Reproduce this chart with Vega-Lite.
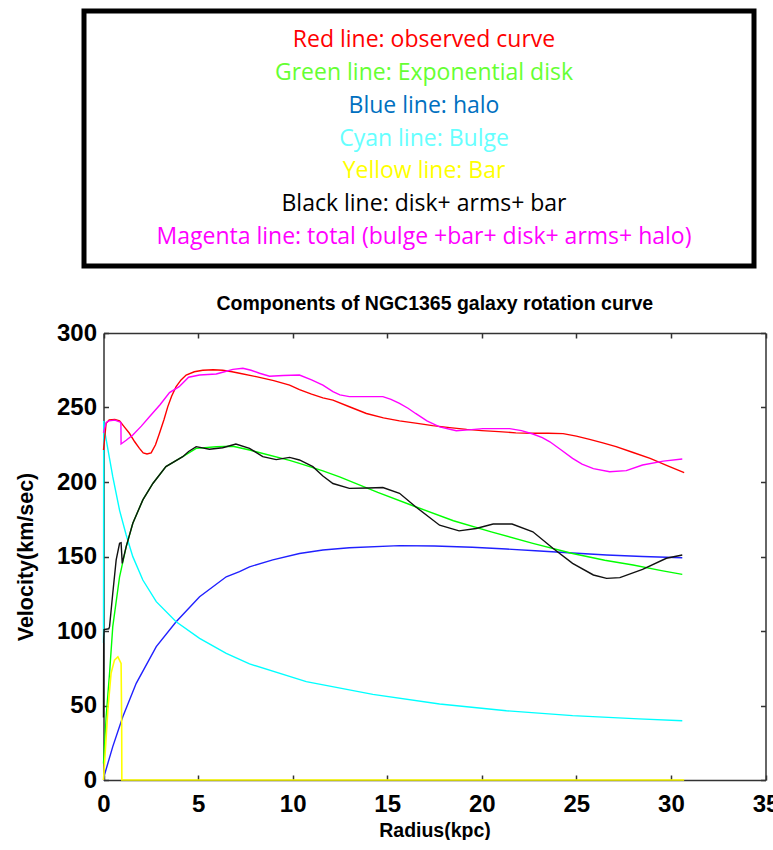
{
  "$schema": "https://vega.github.io/schema/vega-lite/v6.json",
  "autosize": {"type": "pad"},
  "padding": {"left": 15, "top": 8, "right": 0, "bottom": 0},
  "background": "white",
  "config": {"view": {"stroke": null}},
  "spacing": 24,
  "resolve": {"scale": {"color": "independent", "y": "independent", "x": "independent"}},
  "vconcat": [
    {
      "width": 670,
      "height": 255,
      "view": {"stroke": "black", "strokeWidth": 5},
      "data": {"values": [
        {"i": 1, "label": "Red line: observed curve"},
        {"i": 2, "label": "Green line: Exponential disk"},
        {"i": 3, "label": "Blue line: halo"},
        {"i": 4, "label": "Cyan line: Bulge"},
        {"i": 5, "label": "Yellow line: Bar"},
        {"i": 6, "label": "Black line: disk+ arms+ bar"},
        {"i": 7, "label": "Magenta line: total (bulge +bar+ disk+ arms+ halo)"}
      ]},
      "mark": {"type": "text", "font": "Open Sans", "fontSize": 23, "dx": 5},
      "encoding": {
        "y": {"field": "i", "type": "ordinal", "scale": {"type": "point", "padding": 0.875}, "axis": null},
        "text": {"field": "label"},
        "color": {"field": "label", "type": "nominal", "legend": null,
                  "scale": {"domain": ["Red line: observed curve", "Green line: Exponential disk", "Blue line: halo", "Cyan line: Bulge", "Yellow line: Bar", "Black line: disk+ arms+ bar", "Magenta line: total (bulge +bar+ disk+ arms+ halo)"],
                            "range": ["#ff0000", "#66ff33", "#0070c0", "#66ffff", "#ffff00", "#000000", "#ff00ff"]}}
      }
    },
    {
      "width": 681.5,
      "height": 447,
      "title": {"text": "Components of NGC1365 galaxy rotation curve", "font": "Liberation Sans, Arial, sans-serif", "fontSize": 19.5, "fontWeight": "bold", "color": "black", "anchor": "middle", "offset": 7, "dx": 10},
      "data": {"values": [
        {"s": "Blue", "r": 0, "v": 0}, {"s": "Blue", "r": 0.05, "v": 3.4}, {"s": "Blue", "r": 0.49, "v": 22.4}, {"s": "Blue", "r": 1.02, "v": 42.5}, {"s": "Blue", "r": 1.73, "v": 64.9}, {"s": "Blue", "r": 2.79, "v": 89.5}, {"s": "Blue", "r": 3.84, "v": 106.2}, {"s": "Blue", "r": 5.08, "v": 123}, {"s": "Blue", "r": 6.49, "v": 136.4}, {"s": "Blue", "r": 7.19, "v": 139.8}, {"s": "Blue", "r": 7.72, "v": 143.1}, {"s": "Blue", "r": 8.95, "v": 147.7}, {"s": "Blue", "r": 10.36, "v": 152}, {"s": "Blue", "r": 11.6, "v": 154.4}, {"s": "Blue", "r": 13, "v": 155.9}, {"s": "Blue", "r": 15.65, "v": 157.3}, {"s": "Blue", "r": 17.5, "v": 157}, {"s": "Blue", "r": 19.5, "v": 156.2}, {"s": "Blue", "r": 21.3, "v": 155}, {"s": "Blue", "r": 23.06, "v": 153.7}, {"s": "Blue", "r": 24.8, "v": 152.3}, {"s": "Blue", "r": 26.6, "v": 151}, {"s": "Blue", "r": 28.5, "v": 150}, {"s": "Blue", "r": 30.6, "v": 149.2},
        {"s": "Cyan", "r": 0, "v": 92}, {"s": "Cyan", "r": 0.01, "v": 241}, {"s": "Cyan", "r": 0.05, "v": 235}, {"s": "Cyan", "r": 0.49, "v": 203.6}, {"s": "Cyan", "r": 0.85, "v": 181}, {"s": "Cyan", "r": 1.2, "v": 164.4}, {"s": "Cyan", "r": 1.55, "v": 149.9}, {"s": "Cyan", "r": 2.08, "v": 134.2}, {"s": "Cyan", "r": 2.79, "v": 119.7}, {"s": "Cyan", "r": 3.84, "v": 106.2}, {"s": "Cyan", "r": 5.08, "v": 95.1}, {"s": "Cyan", "r": 6.49, "v": 85}, {"s": "Cyan", "r": 7.72, "v": 77.9}, {"s": "Cyan", "r": 10.72, "v": 66}, {"s": "Cyan", "r": 14.24, "v": 57.5}, {"s": "Cyan", "r": 17.77, "v": 51}, {"s": "Cyan", "r": 21.3, "v": 46.5}, {"s": "Cyan", "r": 24.8, "v": 43.2}, {"s": "Cyan", "r": 28.3, "v": 41}, {"s": "Cyan", "r": 30.6, "v": 39.8},
        {"s": "Green", "r": 0, "v": 11}, {"s": "Green", "r": 0.14, "v": 42.5}, {"s": "Green", "r": 0.32, "v": 71.6}, {"s": "Green", "r": 0.49, "v": 102.9}, {"s": "Green", "r": 0.85, "v": 136.4}, {"s": "Green", "r": 1.2, "v": 156.6}, {"s": "Green", "r": 1.55, "v": 172.3}, {"s": "Green", "r": 2.08, "v": 188}, {"s": "Green", "r": 2.61, "v": 199}, {"s": "Green", "r": 3.3, "v": 210.3}, {"s": "Green", "r": 4.19, "v": 217}, {"s": "Green", "r": 4.9, "v": 222.6}, {"s": "Green", "r": 5.96, "v": 223.7}, {"s": "Green", "r": 6.84, "v": 224}, {"s": "Green", "r": 7.72, "v": 221.5}, {"s": "Green", "r": 8.07, "v": 220.3}, {"s": "Green", "r": 9.84, "v": 214.5}, {"s": "Green", "r": 10.36, "v": 212.5}, {"s": "Green", "r": 11.6, "v": 207.5}, {"s": "Green", "r": 12.48, "v": 203.5}, {"s": "Green", "r": 14.5, "v": 193}, {"s": "Green", "r": 16.5, "v": 183.4}, {"s": "Green", "r": 18.5, "v": 174}, {"s": "Green", "r": 20.5, "v": 166.5}, {"s": "Green", "r": 22.7, "v": 158.8}, {"s": "Green", "r": 24.8, "v": 152}, {"s": "Green", "r": 26.5, "v": 147.5}, {"s": "Green", "r": 28, "v": 144.3}, {"s": "Green", "r": 29.5, "v": 140.5}, {"s": "Green", "r": 30.6, "v": 138},
        {"s": "Black", "r": 0, "v": 42}, {"s": "Black", "r": 0.01, "v": 94}, {"s": "Black", "r": 0.03, "v": 100.9}, {"s": "Black", "r": 0.28, "v": 101.5}, {"s": "Black", "r": 0.32, "v": 102.9}, {"s": "Black", "r": 0.49, "v": 125.3}, {"s": "Black", "r": 0.67, "v": 147.7}, {"s": "Black", "r": 0.85, "v": 158.9}, {"s": "Black", "r": 0.93, "v": 159.3}, {"s": "Black", "r": 0.99, "v": 145.4}, {"s": "Black", "r": 1.2, "v": 156.6}, {"s": "Black", "r": 1.55, "v": 172.3}, {"s": "Black", "r": 2.08, "v": 188}, {"s": "Black", "r": 2.61, "v": 199}, {"s": "Black", "r": 3.3, "v": 210.3}, {"s": "Black", "r": 4.19, "v": 217}, {"s": "Black", "r": 4.5, "v": 220.5}, {"s": "Black", "r": 4.9, "v": 223.7}, {"s": "Black", "r": 5.6, "v": 222}, {"s": "Black", "r": 6.3, "v": 223}, {"s": "Black", "r": 7.0, "v": 225.5}, {"s": "Black", "r": 7.72, "v": 222.6}, {"s": "Black", "r": 8.42, "v": 217}, {"s": "Black", "r": 9.13, "v": 215}, {"s": "Black", "r": 9.84, "v": 216.5}, {"s": "Black", "r": 10.36, "v": 214.8}, {"s": "Black", "r": 11.07, "v": 210.3}, {"s": "Black", "r": 11.6, "v": 204}, {"s": "Black", "r": 12.13, "v": 199}, {"s": "Black", "r": 13.0, "v": 195.7}, {"s": "Black", "r": 14.0, "v": 196}, {"s": "Black", "r": 14.77, "v": 196.3}, {"s": "Black", "r": 15.65, "v": 192.4}, {"s": "Black", "r": 16.5, "v": 183.4}, {"s": "Black", "r": 17.77, "v": 171}, {"s": "Black", "r": 18.8, "v": 167.2}, {"s": "Black", "r": 19.7, "v": 168.8}, {"s": "Black", "r": 20.6, "v": 171.8}, {"s": "Black", "r": 21.6, "v": 171.8}, {"s": "Black", "r": 22.7, "v": 166.6}, {"s": "Black", "r": 23.76, "v": 155.5}, {"s": "Black", "r": 24.8, "v": 145.4}, {"s": "Black", "r": 25.9, "v": 137.6}, {"s": "Black", "r": 26.6, "v": 135.3}, {"s": "Black", "r": 27.3, "v": 135.8}, {"s": "Black", "r": 28.5, "v": 141.3}, {"s": "Black", "r": 29.76, "v": 148.8}, {"s": "Black", "r": 30.6, "v": 151},
        {"s": "Red", "r": 0, "v": 221.5}, {"s": "Red", "r": 0.14, "v": 239.4}, {"s": "Red", "r": 0.3, "v": 241.6}, {"s": "Red", "r": 0.6, "v": 242}, {"s": "Red", "r": 0.85, "v": 241}, {"s": "Red", "r": 1.1, "v": 237}, {"s": "Red", "r": 1.37, "v": 232.7}, {"s": "Red", "r": 1.65, "v": 227}, {"s": "Red", "r": 1.9, "v": 222.6}, {"s": "Red", "r": 2.1, "v": 219.5}, {"s": "Red", "r": 2.3, "v": 218.8}, {"s": "Red", "r": 2.52, "v": 219.5}, {"s": "Red", "r": 2.75, "v": 225}, {"s": "Red", "r": 2.96, "v": 232.7}, {"s": "Red", "r": 3.2, "v": 242}, {"s": "Red", "r": 3.4, "v": 250.6}, {"s": "Red", "r": 3.6, "v": 257.5}, {"s": "Red", "r": 3.84, "v": 264}, {"s": "Red", "r": 4.1, "v": 268.5}, {"s": "Red", "r": 4.37, "v": 271.8}, {"s": "Red", "r": 4.8, "v": 274}, {"s": "Red", "r": 5.25, "v": 275}, {"s": "Red", "r": 5.8, "v": 275.3}, {"s": "Red", "r": 6.3, "v": 275}, {"s": "Red", "r": 6.8, "v": 274}, {"s": "Red", "r": 7.19, "v": 273}, {"s": "Red", "r": 8.07, "v": 270.7}, {"s": "Red", "r": 9.0, "v": 268}, {"s": "Red", "r": 9.84, "v": 265}, {"s": "Red", "r": 10.36, "v": 262}, {"s": "Red", "r": 11.0, "v": 259}, {"s": "Red", "r": 11.6, "v": 256.5}, {"s": "Red", "r": 12.13, "v": 255}, {"s": "Red", "r": 13.0, "v": 250.5}, {"s": "Red", "r": 13.9, "v": 246}, {"s": "Red", "r": 14.8, "v": 243}, {"s": "Red", "r": 15.65, "v": 241}, {"s": "Red", "r": 16.5, "v": 239.5}, {"s": "Red", "r": 17.4, "v": 237.8}, {"s": "Red", "r": 18.3, "v": 236.5}, {"s": "Red", "r": 19.2, "v": 235.3}, {"s": "Red", "r": 20.0, "v": 234.5}, {"s": "Red", "r": 20.9, "v": 233.8}, {"s": "Red", "r": 21.8, "v": 233}, {"s": "Red", "r": 22.7, "v": 232.7}, {"s": "Red", "r": 23.5, "v": 232.7}, {"s": "Red", "r": 24.3, "v": 232.5}, {"s": "Red", "r": 25.0, "v": 230.8}, {"s": "Red", "r": 25.7, "v": 228.6}, {"s": "Red", "r": 26.4, "v": 226.3}, {"s": "Red", "r": 27.1, "v": 223.7}, {"s": "Red", "r": 28.0, "v": 219.8}, {"s": "Red", "r": 28.9, "v": 215.9}, {"s": "Red", "r": 29.8, "v": 211}, {"s": "Red", "r": 30.7, "v": 206.3},
        {"s": "Magenta", "r": 0, "v": 233}, {"s": "Magenta", "r": 0.14, "v": 240}, {"s": "Magenta", "r": 0.3, "v": 241}, {"s": "Magenta", "r": 0.6, "v": 241.5}, {"s": "Magenta", "r": 0.92, "v": 240}, {"s": "Magenta", "r": 0.93, "v": 225.5}, {"s": "Magenta", "r": 1.2, "v": 228}, {"s": "Magenta", "r": 1.55, "v": 231.5}, {"s": "Magenta", "r": 2.0, "v": 237.5}, {"s": "Magenta", "r": 2.43, "v": 243.8}, {"s": "Magenta", "r": 3.0, "v": 252}, {"s": "Magenta", "r": 3.49, "v": 260}, {"s": "Magenta", "r": 4.0, "v": 264}, {"s": "Magenta", "r": 4.5, "v": 270.3}, {"s": "Magenta", "r": 5.08, "v": 271.8}, {"s": "Magenta", "r": 5.96, "v": 272.5}, {"s": "Magenta", "r": 6.4, "v": 274}, {"s": "Magenta", "r": 6.84, "v": 275.6}, {"s": "Magenta", "r": 7.37, "v": 276.3}, {"s": "Magenta", "r": 7.8, "v": 275}, {"s": "Magenta", "r": 8.25, "v": 273}, {"s": "Magenta", "r": 8.78, "v": 271}, {"s": "Magenta", "r": 9.5, "v": 271.5}, {"s": "Magenta", "r": 10.36, "v": 271.8}, {"s": "Magenta", "r": 11.0, "v": 268.5}, {"s": "Magenta", "r": 11.6, "v": 265}, {"s": "Magenta", "r": 12.13, "v": 260.6}, {"s": "Magenta", "r": 12.5, "v": 258.5}, {"s": "Magenta", "r": 13.0, "v": 257.3}, {"s": "Magenta", "r": 14.77, "v": 257.3}, {"s": "Magenta", "r": 15.2, "v": 255.5}, {"s": "Magenta", "r": 15.65, "v": 252.8}, {"s": "Magenta", "r": 16.1, "v": 249.5}, {"s": "Magenta", "r": 16.5, "v": 246}, {"s": "Magenta", "r": 17.1, "v": 241}, {"s": "Magenta", "r": 17.77, "v": 237}, {"s": "Magenta", "r": 18.65, "v": 234.4}, {"s": "Magenta", "r": 19.3, "v": 235}, {"s": "Magenta", "r": 20.06, "v": 235.8}, {"s": "Magenta", "r": 21.47, "v": 235.8}, {"s": "Magenta", "r": 22.1, "v": 234.5}, {"s": "Magenta", "r": 22.7, "v": 232.2}, {"s": "Magenta", "r": 23.2, "v": 229.8}, {"s": "Magenta", "r": 23.6, "v": 227}, {"s": "Magenta", "r": 24.2, "v": 221.5}, {"s": "Magenta", "r": 24.8, "v": 215.9}, {"s": "Magenta", "r": 25.3, "v": 212}, {"s": "Magenta", "r": 25.9, "v": 209}, {"s": "Magenta", "r": 26.76, "v": 206.9}, {"s": "Magenta", "r": 27.64, "v": 207.6}, {"s": "Magenta", "r": 28.5, "v": 211.4}, {"s": "Magenta", "r": 29.6, "v": 214}, {"s": "Magenta", "r": 30.6, "v": 215.4},
        {"s": "Bar", "r": 0, "v": 0}, {"s": "Bar", "r": 0.23, "v": 47}, {"s": "Bar", "r": 0.4, "v": 71.6}, {"s": "Bar", "r": 0.58, "v": 80.5}, {"s": "Bar", "r": 0.76, "v": 82.7}, {"s": "Bar", "r": 0.93, "v": 78.3}, {"s": "Bar", "r": 0.96, "v": 40}, {"s": "Bar", "r": 0.97, "v": 0}, {"s": "Bar", "r": 30.7, "v": 0}
      ]},
      "layer": [
        {
          "transform": [{"filter": "datum.s !== 'Bar'"}],
          "mark": {"type": "line", "strokeWidth": 1.4},
          "encoding": {
            "x": {"field": "r", "type": "quantitative", "scale": {"domain": [0, 35], "range": [19.5, 681.5], "nice": false, "zero": false},
                  "axis": {"orient": "bottom", "values": [0, 5, 10, 15, 20, 25, 30, 35], "grid": false, "tickSize": -5, "tickColor": "#333", "tickWidth": 1.5, "domainColor": "#333", "domainWidth": 1.5,
                           "labelFont": "Liberation Sans, Arial, sans-serif", "labelFontSize": 24, "labelFontWeight": "bold", "labelColor": "black", "labelPadding": 17, "labelFlush": false, "labelOverlap": false,
                           "title": "Radius(kpc)", "titleFont": "Liberation Sans, Arial, sans-serif", "titleFontSize": 19.5, "titleFontWeight": "bold", "titleColor": "black", "titlePadding": 5, "titleX": 350.5}},
            "y": {"field": "v", "type": "quantitative", "scale": {"domain": [0, 300], "nice": false},
                  "axis": {"orient": "left", "offset": -19.5, "values": [0, 50, 100, 150, 200, 250, 300], "grid": false, "tickSize": -5, "tickColor": "#333", "tickWidth": 1.5, "domainColor": "#333", "domainWidth": 1.5,
                           "labelFont": "Liberation Sans, Arial, sans-serif", "labelFontSize": 24, "labelFontWeight": "bold", "labelColor": "black", "labelPadding": 12, "labelFlush": false, "labelOverlap": false,
                           "title": "Velocity(km/sec)", "titleFont": "Liberation Sans, Arial, sans-serif", "titleFontSize": 21.5, "titleFontWeight": "bold", "titleColor": "black", "titlePadding": 19}},
            "color": {"field": "s", "type": "nominal", "legend": null,
                      "scale": {"domain": ["Blue", "Cyan", "Green", "Black", "Red", "Magenta"], "range": ["#2020ff", "#00ffff", "#00ff00", "#111111", "#ff0000", "#ff00ff"]}}
          }
        },
        {
          "transform": [{"filter": "datum.s === 'Bar'"}],
          "mark": {"type": "line", "strokeWidth": 1.6, "color": "#ffff00"},
          "encoding": {
            "x": {"field": "r", "type": "quantitative", "scale": {"domain": [0, 35], "range": [19.5, 681.5], "nice": false, "zero": false},
                  "axis": {"orient": "top", "values": [0, 5, 10, 15, 20, 25, 30, 35], "grid": false, "labels": false, "title": null, "tickSize": -5, "tickColor": "#333", "tickWidth": 1.5, "domainColor": "#333", "domainWidth": 1.5}},
            "y": {"field": "v", "type": "quantitative", "scale": {"domain": [0, 300], "nice": false},
                  "axis": {"orient": "right", "values": [0, 50, 100, 150, 200, 250, 300], "grid": false, "labels": false, "title": null, "tickSize": -5, "tickColor": "#333", "tickWidth": 1.5, "domainColor": "#333", "domainWidth": 1.5}}
          }
        }
      ],
      "resolve": {"axis": {"x": "independent", "y": "independent"}}
    }
  ]
}
